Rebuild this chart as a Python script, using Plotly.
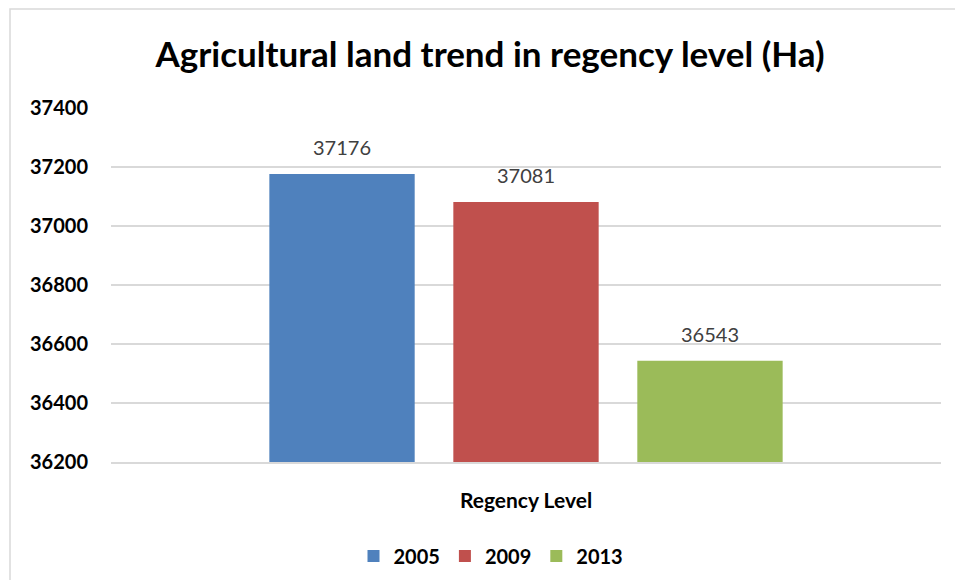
import plotly.graph_objects as go

categories = ["Regency Level"]
series_names = ["2005", "2009", "2013"]
series_values = [[37176], [37081], [36543]]
colors = ["#4F81BD", "#C0504D", "#9BBB59"]
y_ticks = [36200, 36400, 36600, 36800, 37000, 37200, 37400]

FONT = "Lato"

# page is offset by the body margin (8px); work in page pixels and convert
OFF = 8
W, H = 963 - OFF, 580 - OFF
L, R, T, B = 111 - OFF, 941 - OFF, 108 - OFF, 462 - OFF

def px(x):
    return (x - OFF - L) / (R - L)
def py(y):
    return (B - (y - OFF)) / (B - T)

BARGAP = 0.335
BARGROUPGAP = 0.21
n = len(series_names)
slot_px = (R - L) * (1 - BARGAP) / n

fig = go.Figure()
annotations = []
for i, (name, vals, c) in enumerate(zip(series_names, series_values, colors)):
    fig.add_trace(go.Bar(
        x=categories, y=vals, name=f"<b>{name}</b>",
        marker=dict(color=c, line=dict(width=0)),
        hoverinfo="x+y+name",
    ))
    for cat, v in zip(categories, vals):
        annotations.append(dict(
            x=cat, y=v, xref="x", yref="y", text=str(v), showarrow=False,
            xanchor="center", yanchor="bottom", yshift=13,
            xshift=(i - (n - 1) / 2) * slot_px,
            font=dict(family=FONT, size=20, color="#404040"),
        ))

fig.update_layout(
    width=W, height=H,
    margin=dict(l=L, r=W - R, t=T, b=H - B, autoexpand=False),
    paper_bgcolor="white", plot_bgcolor="white",
    barmode="group", bargap=BARGAP, bargroupgap=BARGROUPGAP,
    title=dict(text="<b>Agricultural land trend in regency level (Ha)</b>",
               font=dict(family=FONT, size=35, color="black"),
               x=(490 - OFF) / W, xref="container", xanchor="center",
               y=1 - (55 - OFF) / H, yref="container", yanchor="middle"),
    showlegend=True,
    legend=dict(orientation="h", x=(491 - OFF) / W, xref="container", xanchor="center",
                y=1 - (556 - OFF) / H, yref="container", yanchor="middle",
                font=dict(family=FONT, size=20, color="black"),
                itemwidth=30, tracegroupgap=0, traceorder="normal"),
    xaxis=dict(showgrid=False, showline=True, linecolor="#d9d9d9", linewidth=1.5,
               tickfont=dict(family=FONT, size=21, color="black"),
               ticks="", ticklabelstandoff=19, automargin=False,
               tickvals=categories, ticktext=[f"<b>{c}</b>" for c in categories]),
    yaxis=dict(range=[36200, 37400], tickvals=y_ticks, ticktext=[f"<b>{v}</b>" for v in y_ticks],
               showgrid=True, gridcolor="#d9d9d9", gridwidth=1.5,
               zeroline=False, showline=False, ticks="", automargin=False,
               tickfont=dict(family=FONT, size=20, color="black"),
               ticklabelstandoff=22),
    annotations=annotations,
    shapes=[dict(type="rect", xref="paper", yref="paper",
                 x0=px(10), x1=px(990), y0=py(9), y1=py(620),
                 line=dict(color="#d9d9d9", width=1.5), fillcolor="rgba(0,0,0,0)", layer="below")],
)

fig.write_html("out.html")
